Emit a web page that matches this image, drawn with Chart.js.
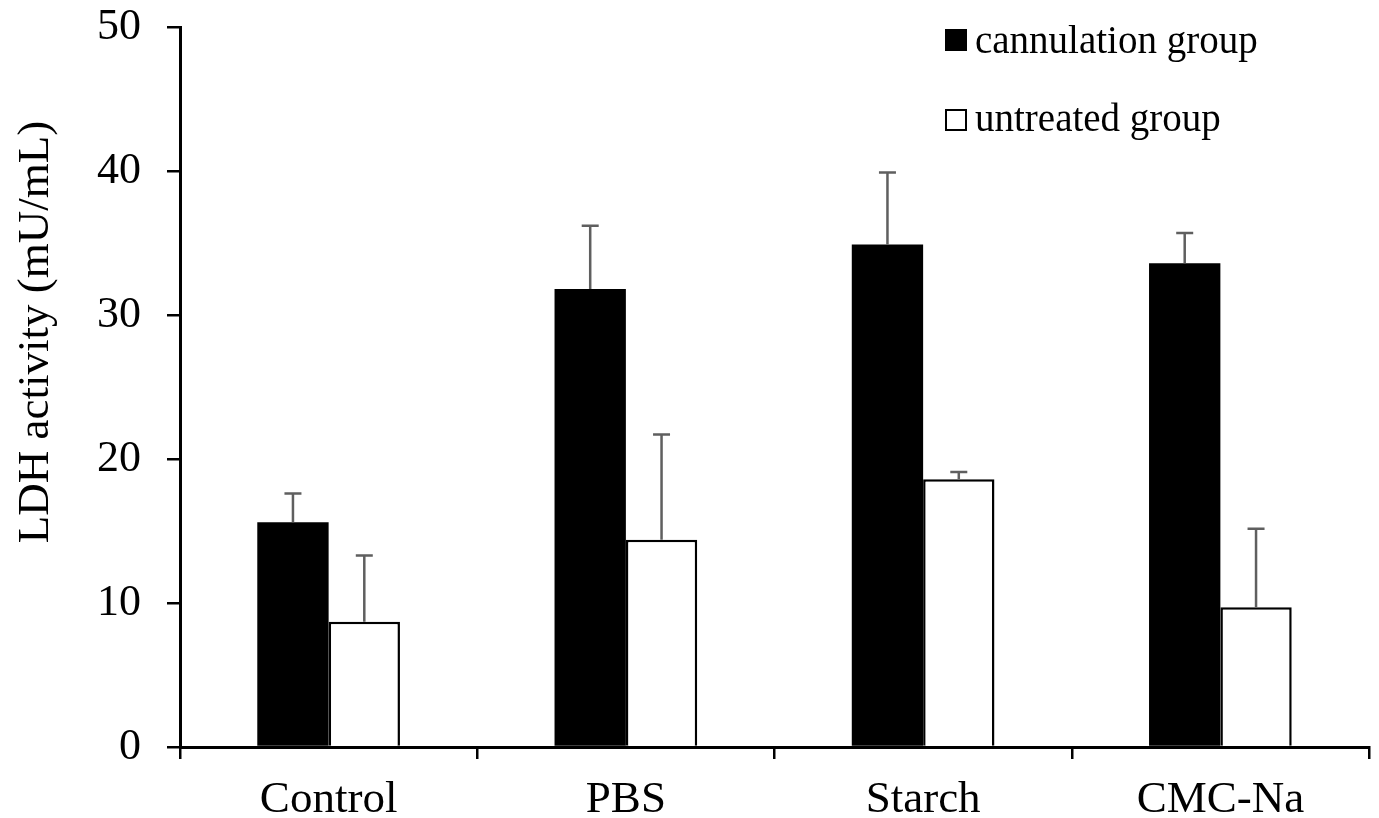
<!DOCTYPE html>
<html>
<head>
<meta charset="utf-8">
<script src="https://cdn.jsdelivr.net/npm/chart.js@4/dist/chart.umd.min.js"></script>
<style>
  html, body { margin: 0; padding: 0; background: #ffffff; }
  #wrap { width: 1379px; height: 818px; position: relative; }
</style>
</head>
<body>
<div id="wrap"><canvas id="c" width="1379" height="818"></canvas></div>
<script>
const categories = ['Control', 'PBS', 'Starch', 'CMC-Na'];
const cannulation = [15.6, 31.8, 34.9, 33.6];
const cannulationErr = [2.0, 4.4, 5.0, 2.1];
const untreated = [8.7, 14.4, 18.6, 9.7];
const untreatedErr = [4.6, 7.3, 0.5, 5.45];
const seriesLabels = ['cannulation group', 'untreated group'];
const yTitle = 'LDH activity (mU/mL)';
const yTicks = [0, 10, 20, 30, 40, 50];

const FONT = '"Liberation Serif", "Times New Roman", serif';

const errorBarPlugin = {
  id: 'errorBars',
  afterDatasetsDraw(chart) {
    const ctx = chart.ctx;
    const y = chart.scales.y;
    chart.data.datasets.forEach((ds, di) => {
      const meta = chart.getDatasetMeta(di);
      meta.data.forEach((bar, i) => {
        const v = ds.data[i];
        const e = ds.errors[i];
        const x = bar.x;
        const y0 = y.getPixelForValue(v);
        const y1 = y.getPixelForValue(v + e);
        ctx.save();
        ctx.strokeStyle = '#5f5f5f';
        ctx.lineWidth = 2.5;
        ctx.beginPath();
        ctx.moveTo(x, y0);
        ctx.lineTo(x, y1);
        ctx.moveTo(x - 8.5, y1);
        ctx.lineTo(x + 8.5, y1);
        ctx.stroke();
        ctx.restore();
      });
    });
  }
};

const customTextPlugin = {
  id: 'customText',
  afterDraw(chart) {
    const ctx = chart.ctx;
    ctx.save();
    // y axis title
    ctx.font = '45px ' + FONT;
    ctx.fillStyle = '#000';
    ctx.textAlign = 'center';
    ctx.textBaseline = 'alphabetic';
    ctx.translate(48, 332);
    ctx.rotate(-Math.PI / 2);
    ctx.fillText(yTitle, 0, 0);
    ctx.restore();

    // legend
    ctx.save();
    ctx.font = '39px ' + FONT;
    ctx.textAlign = 'left';
    ctx.textBaseline = 'alphabetic';
    const rows = [{ boxY: 29, textY: 53 }, { boxY: 109, textY: 131 }];
    chart.data.datasets.forEach((ds, i) => {
      const r = rows[i];
      ctx.fillStyle = ds.backgroundColor;
      ctx.fillRect(945, r.boxY, 22, 22);
      ctx.strokeStyle = '#000';
      ctx.lineWidth = 2;
      ctx.strokeRect(946, r.boxY + 1, 20, 20);
      ctx.fillStyle = '#000';
      ctx.fillText(ds.label, 975, r.textY);
    });
    ctx.restore();
  }
};

new Chart(document.getElementById('c'), {
  type: 'bar',
  data: {
    labels: categories,
    datasets: [
      {
        label: seriesLabels[0],
        data: cannulation,
        errors: cannulationErr,
        backgroundColor: '#000000',
        borderColor: '#000000',
        borderWidth: 0
      },
      {
        label: seriesLabels[1],
        data: untreated,
        errors: untreatedErr,
        backgroundColor: '#ffffff',
        borderColor: '#000000',
        borderWidth: 2.5
      }
    ]
  },
  options: {
    responsive: false,
    animation: false,
    devicePixelRatio: 1,
    layout: { padding: { top: 27, right: 10, left: 0, bottom: 0 } },
    plugins: {
      legend: { display: false },
      tooltip: { enabled: false },
      title: { display: false }
    },
    datasets: {
      bar: { categoryPercentage: 0.48, barPercentage: 1.0 }
    },
    scales: {
      x: {
        grid: {
          offset: true,
          drawOnChartArea: false,
          drawTicks: true,
          tickLength: 12,
          color: '#000',
          lineWidth: 2.5
        },
        border: { display: true, color: '#000', width: 3 },
        ticks: {
          color: '#000',
          font: { family: FONT, size: 45 },
          padding: 14,
          maxRotation: 0
        },
        afterFit(scale) {
          scale.height = 71;
          scale.paddingLeft = 0;
          scale.paddingRight = 0;
        }
      },
      y: {
        min: 0,
        max: 50,
        afterBuildTicks(scale) { scale.ticks = yTicks.map(v => ({ value: v })); },
        grid: {
          drawOnChartArea: false,
          drawTicks: true,
          tickLength: 13,
          color: '#000',
          lineWidth: 2.5
        },
        border: { display: true, color: '#000', width: 3 },
        ticks: {
          color: '#000',
          font: { family: FONT, size: 44 },
          padding: 26
        },
        afterFit(scale) {
          scale.width = 180;
          scale.paddingTop = 0;
          scale.paddingBottom = 0;
        }
      }
    }
  },
  plugins: [errorBarPlugin, customTextPlugin]
});
</script>
</body>
</html>
